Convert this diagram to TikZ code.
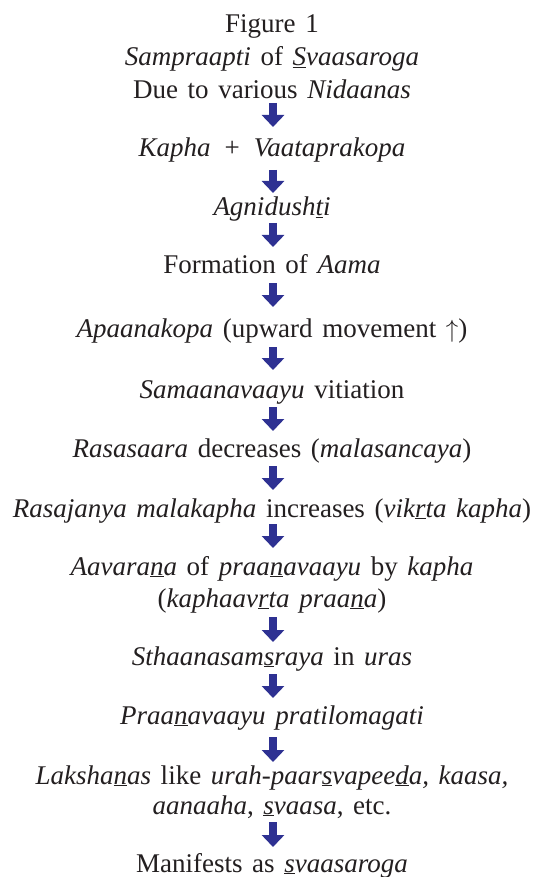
\documentclass[tikz,border=0pt]{standalone}
\usepackage{fontspec}
\setmainfont[WordSpace=1.42]{Liberation Serif}
\usetikzlibrary{arrows.meta}
\definecolor{arrowblue}{RGB}{46,49,146}
\definecolor{ink}{RGB}{35,31,32}
\newcommand\uln[1]{\underline{#1}}
\tikzset{
  txt/.style={anchor=base, inner sep=0pt, align=center, text=ink,
    font={\fontsize{27}{31}\selectfont}},
  blk/.style={draw=arrowblue, line width=8pt,
    -{Triangle[width=22pt,length=12pt]}}
}
\begin{document}
\begin{tikzpicture}[x=1pt,y=-1pt]
\useasboundingbox[fill=white] (0,0) rectangle (543,877);
\node[txt] (fig) at (272,33) {Figure 1};
\node[txt] (title) at (272,66) {\textit{Sampraapti} of \textit{\uln{S}vaasaroga}};
\node[txt] (n1) at (272,99) {Due to various \textit{Nidaanas}};
\node[txt] (n2) at (272,157) {\textit{Kapha} \,+\, \textit{Vaataprakopa}};
\node[txt] (n3) at (272,216) {\textit{Agnidush\uln{t}i}};
\node[txt] (n4) at (272,273) {Formation of \textit{Aama}};
\node[txt] (n5) at (272,337) {\textit{Apaanakopa} (upward movement $\uparrow$)};
\node[txt] (n6) at (272,398) {\textit{Samaanavaayu} vitiation};
\node[txt] (n7) at (272,457) {\textit{Rasasaara} decreases (\textit{malasancaya})};
\node[txt] (n8) at (272,517) {\textit{Rasajanya malakapha} increases (\textit{vik\uln{r}ta kapha})};
\node[txt, font={\fontsize{27}{32}\selectfont}] (n9) at (272,607) {\textit{Aavara\uln{n}a} of \textit{praa\uln{n}avaayu} by \textit{kapha}\\(\textit{kaphaav\uln{r}ta praa\uln{n}a})};
\node[txt] (n10) at (272,665) {\textit{Sthaanasam\uln{s}raya} in \textit{uras}};
\node[txt] (n11) at (272,724) {\textit{Praa\uln{n}avaayu pratilomagati}};
\node[txt, font={\fontsize{27}{30}\selectfont}] (n12) at (272,814) {\textit{Laksha\uln{n}as} like \textit{urah-paar\uln{s}vapee\uln{d}a, kaasa,}\\\textit{aanaaha}, \textit{\uln{s}vaasa}, etc.};
\node[txt] (n13) at (272,872) {Manifests as \textit{\uln{s}vaasaroga}};
\draw[blk] ([shift={(1,4)}]n1.base) -- ([shift={(1,-30)}]n2.base);
\draw[blk] ([shift={(1,13)}]n2.base) -- ([shift={(1,-23)}]n3.base);
\draw[blk] ([shift={(1,7)}]n3.base) -- ([shift={(1,-26)}]n4.base);
\draw[blk] ([shift={(1,10)}]n4.base) -- ([shift={(1,-30)}]n5.base);
\draw[blk] ([shift={(1,10)}]n5.base) -- ([shift={(1,-28)}]n6.base);
\draw[blk] ([shift={(1,9)}]n6.base) -- ([shift={(1,-26)}]n7.base);
\draw[blk] ([shift={(1,9)}]n7.base) -- ([shift={(1,-27)}]n8.base);
\draw[blk] ([shift={(1,7)}]n8.base) -- ([shift={(1,-59)}]n9.base);
\draw[blk] ([shift={(1,10)}]n9.base) -- ([shift={(1,-23)}]n10.base);
\draw[blk] ([shift={(1,9)}]n10.base) -- ([shift={(1,-26)}]n11.base);
\draw[blk] ([shift={(1,13)}]n11.base) -- ([shift={(1,-52)}]n12.base);
\draw[blk] ([shift={(1,8)}]n12.base) -- ([shift={(1,-25)}]n13.base);
\end{tikzpicture}
\end{document}
